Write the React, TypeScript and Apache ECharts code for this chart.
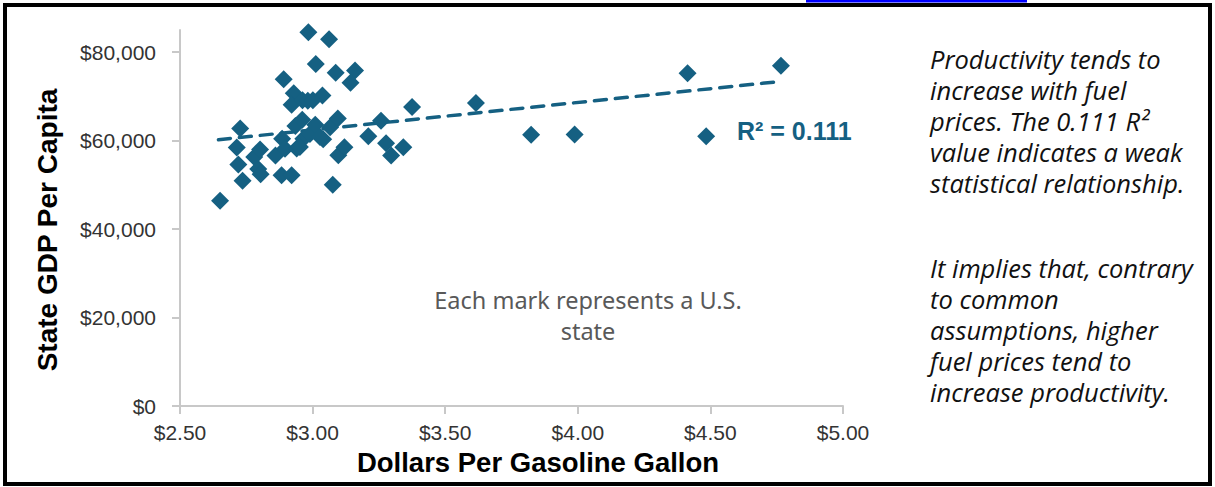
import React, { useEffect, useRef } from "react";
import * as echarts from "echarts";

// Gasoline price ($/gal) per state
const priceX: number[] = [
  2.984, 3.062, 3.012, 3.087, 3.16, 3.143, 2.891, 2.929, 3.037, 2.921,
  2.962, 2.982, 3.001, 3.375, 3.616, 2.727, 2.714, 2.72, 2.736, 2.651,
  2.78, 2.802, 2.795, 2.804, 2.885, 2.86, 2.896, 2.883, 2.921, 2.94,
  2.935, 2.961, 2.965, 2.99, 3.01, 3.04, 3.066, 3.095, 3.097, 3.12,
  3.076, 3.21, 3.258, 3.277, 3.296, 3.342, 3.824, 3.988, 4.414, 4.484,
  4.766, 2.952, 3.028,
];
// State GDP per capita ($)
const gdpY: number[] = [
  84500, 82900, 77300, 75350, 75850, 73100, 73850, 70700, 70200, 68100,
  69100, 69000, 69100, 67600, 68500, 62750, 58450, 54600, 50900, 46400,
  56300, 58000, 53600, 52400, 60400, 56650, 58150, 52150, 52150, 58200,
  63300, 64700, 60400, 61500, 63600, 60300, 63000, 65000, 56700, 58500,
  50000, 61000, 64500, 59400, 56650, 58500, 61300, 61400, 75200, 61000,
  76900, 58550, 60800,
];
// Linear trendline end points
const trendX: number[] = [2.645, 4.768];
const trendY: number[] = [60200, 73400];

const yTicks: number[] = [0, 20000, 40000, 60000, 80000];

const NAVY = "#156082";

export default function App() {
  const ref = useRef<HTMLDivElement>(null);
  useEffect(() => {
    if (!ref.current) return;
    const chart = echarts.init(ref.current, undefined, { renderer: "svg" });
    const pts = priceX.map((x, i) => [x, gdpY[i]]);
    const trend = trendX.map((x, i) => [x, trendY[i]]);
    const axisCol = "#c8c8c8";
    chart.setOption({
      animation: false,
      backgroundColor: "#ffffff",
      grid: { left: 180, right: 372, top: 30, bottom: 81, outerBoundsMode: "none" },
      xAxis: {
        type: "value",
        min: 2.5,
        max: 5,
        interval: 0.5,
        axisLine: { show: true, lineStyle: { color: axisCol, width: 2 } },
        axisTick: { show: true, length: 8, lineStyle: { color: axisCol, width: 2 } },
        splitLine: { show: false },
        axisLabel: {
          formatter: (v: number) => "$" + v.toFixed(2),
          fontSize: 21,
          color: "#333333",
          margin: 16,
          fontFamily: "Liberation Sans",
        },
      },
      yAxis: {
        type: "value",
        min: 0,
        max: 85000,
        axisLine: { show: true, lineStyle: { color: axisCol, width: 2 } },
        axisTick: {
          show: true,
          length: 8,
          customValues: yTicks,
          lineStyle: { color: axisCol, width: 2 },
        },
        splitLine: { show: false },
        axisLabel: {
          customValues: yTicks,
          formatter: (v: number) => "$" + v.toLocaleString("en-US"),
          fontSize: 21,
          color: "#333333",
          margin: 24,
          fontFamily: "Liberation Sans",
        },
      },
      series: [
        {
          type: "line",
          data: trend,
          symbol: "none",
          lineStyle: { color: NAVY, width: 3.5, type: [12, 9], cap: "round", opacity: 1 },
          z: 2,
          silent: true,
        },
        {
          type: "scatter",
          data: pts,
          symbol: "diamond",
          symbolSize: 18,
          itemStyle: { color: NAVY, opacity: 1 },
          z: 3,
        },
      ],
      graphic: [
        {
          type: "rect",
          shape: { x: 5, y: 5, width: 1205, height: 479 },
          style: { fill: "none", stroke: "#000", lineWidth: 4 },
          silent: true,
        },
        {
          type: "rect",
          shape: { x: 806, y: 0, width: 221, height: 2.5 },
          style: { fill: "#0000ff" },
        },
        {
          type: "text",
          x: 47,
          y: 230,
          rotation: Math.PI / 2,
          style: {
            text: "State GDP Per Capita",
            font: "bold 28px 'Liberation Sans'",
            fill: "#000",
            align: "center",
            verticalAlign: "middle",
          },
        },
        {
          type: "text",
          x: 538,
          y: 462,
          style: {
            text: "Dollars Per Gasoline Gallon",
            font: "bold 27.5px 'Liberation Sans'",
            fill: "#000",
            align: "center",
            verticalAlign: "middle",
          },
        },
        {
          type: "text",
          x: 737,
          y: 131,
          style: {
            text: "R² = 0.111",
            font: "bold 25px 'Liberation Sans'",
            fill: NAVY,
            align: "left",
            verticalAlign: "middle",
          },
        },
        {
          type: "text",
          x: 588,
          y: 315,
          style: {
            text: "Each mark represents a U.S.\nstate",
            font: "23.5px 'Noto Sans'",
            lineHeight: 31,
            fill: "#595959",
            align: "center",
            verticalAlign: "middle",
          },
        },
        {
          type: "text",
          x: 930,
          y: 121,
          style: {
            text:
              "Productivity tends to\nincrease with fuel\nprices. The 0.111 R²\nvalue indicates a weak\nstatistical relationship.",
            font: "italic 25.5px 'Open Sans'",
            lineHeight: 31,
            fill: "#111111",
            align: "left",
            verticalAlign: "middle",
          },
        },
        {
          type: "text",
          x: 930,
          y: 330,
          style: {
            text:
              "It implies that, contrary\nto common\nassumptions, higher\nfuel prices tend to\nincrease productivity.",
            font: "italic 25.5px 'Open Sans'",
            lineHeight: 31,
            fill: "#111111",
            align: "left",
            verticalAlign: "middle",
          },
        },
      ],
    });
    return () => chart.dispose();
  }, []);
  return (
    <div
      ref={ref}
      style={{ position: "absolute", left: 0, top: 0, width: 1215, height: 487 }}
    />
  );
}
